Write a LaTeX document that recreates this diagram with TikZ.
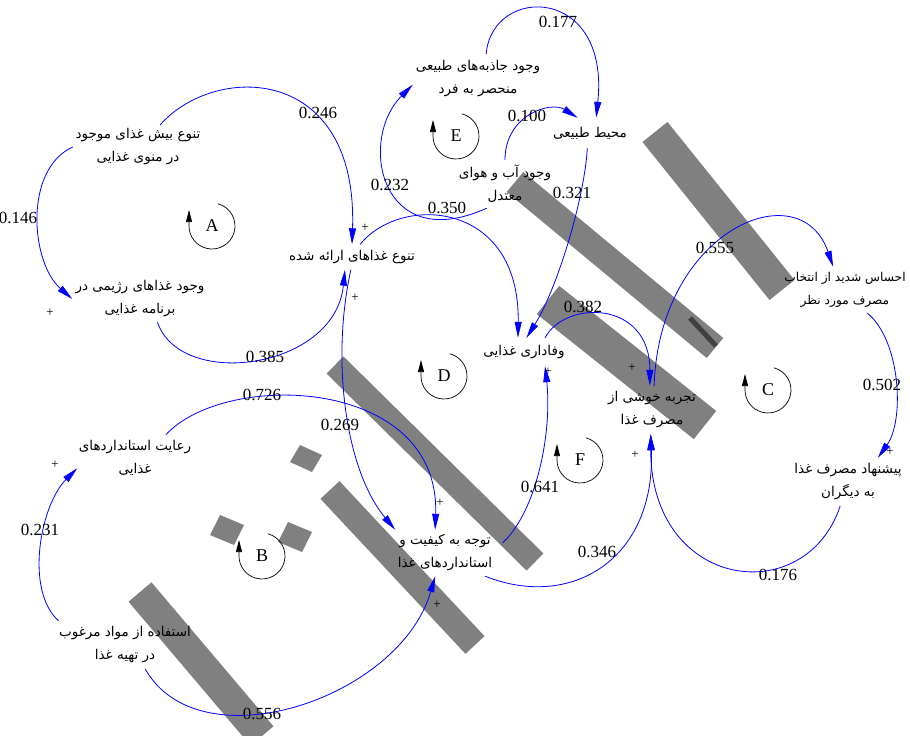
\documentclass[tikz,border=0pt]{standalone}
\usepackage{fontspec}
\setmainfont{Liberation Serif}
\newfontfamily\fa[Script=Arabic]{DejaVu Sans}
\TeXXeTstate=1
\usetikzlibrary{arrows.meta}
\begin{document}
\begin{tikzpicture}[x=1pt,y=1pt,
  lbl/.style={inner sep=0pt, align=center, font=\fa\fontsize{13.5}{23}\selectfont},
  num/.style={inner sep=0pt, font=\fontsize{17}{17}\selectfont},
  pol/.style={inner sep=0pt, font=\fontsize{13}{13}\selectfont},
  looplbl/.style={inner sep=0pt, font=\fontsize{18}{18}\selectfont},
  link/.style={blue, line width=0.8pt, -{Triangle[length=16pt,width=7pt]}},
  loopar/.style={black, line width=0.7pt, -{Triangle[length=12pt,width=6pt]}},
  wm/.style={black!50, line cap=butt}]
\useasboundingbox (0,0) rectangle (910,-736);
\clip (0,0) rectangle (910,-736);

% watermark (grey calligraphy, approximated)
\draw[wm, line width=32pt] (655,-132) -- (782,-290);
\draw[wm, line width=26pt] (515,-182) -- (715,-348);
\draw[black!75, line width=5pt] (690,-318) -- (716,-346);
\draw[wm, line width=36pt] (548,-300) -- (705,-425);
\draw[wm, line width=24pt] (335,-365) -- (535,-562);
\draw[wm, line width=26pt] (330,-490) -- (475,-645);
\draw[wm, line width=30pt] (140,-592) -- (262,-736);
\fill[black!50] (300,-445) -- (322,-455) -- (312,-472) -- (290,-462) -- cycle;
\fill[black!50] (220,-515) -- (244,-525) -- (234,-545) -- (210,-535) -- cycle;
\fill[black!50] (288,-522) -- (312,-532) -- (302,-552) -- (278,-542) -- cycle;

% variables
\node[lbl, minimum width=130pt, minimum height=44pt] (l1) at (138,-147) {\beginR تنوع بیش غذای موجود\endR\\\beginR در منوی غذایی\endR};
\node[lbl, minimum width=135pt, minimum height=46pt] (l2) at (140,-299) {\beginR وجود غذاهای رژیمی در\endR\\\beginR برنامه غذایی\endR};
\node[lbl, minimum width=116pt, minimum height=25pt] (l3) at (352,-257) {\beginR تنوع غذاهای ارائه شده\endR};
\node[lbl, minimum width=130pt, minimum height=50pt] (l4) at (478,-79) {\beginR وجود جاذبه‌های طبیعی\endR\\\beginR منحصر به فرد\endR};
\node[lbl, minimum width=76pt, minimum height=30pt] (l5) at (590,-133) {\beginR محیط طبیعی\endR};
\node[lbl, minimum width=95pt, minimum height=48pt] (l6) at (505,-184) {\beginR وجود آب و هوای\endR\\\beginR معتدل\endR};
\node[lbl, minimum width=65pt, minimum height=28pt] (l7) at (524,-352) {\beginR وفاداری غذایی\endR};
\node[lbl, minimum width=105pt, minimum height=48pt] (l8) at (652,-410) {\beginR تجربه خوشی از\endR\\\beginR مصرف غذا\endR};
\node[lbl, minimum width=135pt, minimum height=46pt, font=\fa\fontsize{12.2}{23}\selectfont] (l9) at (845,-290) {\beginR احساس شدید از انتخاب\endR\\\beginR مصرف مورد نظر\endR};
\node[lbl, minimum width=120pt, minimum height=48pt] (l10) at (848,-482) {\beginR پیشنهاد مصرف غذا\endR\\\beginR به دیگران\endR};
\node[lbl, minimum width=115pt, minimum height=46pt] (l11) at (135,-458) {\beginR رعایت استانداردهای\endR\\\beginR غذایی\endR};
\node[lbl, minimum width=115pt, minimum height=46pt] (l12) at (445,-553) {\beginR توجه به کیفیت و\endR\\\beginR استانداردهای غذا\endR};
\node[lbl, minimum width=145pt, minimum height=48pt] (l13) at (125,-645) {\beginR استفاده از مواد مرغوب\endR\\\beginR در تهیه غذا\endR};

% links
\draw[link] (l1.west) .. controls +(-49,-22) and +(-42,37) .. (l2.west);
\draw[link] (l1.45) .. controls +(55,62) and +(6,180) .. (l3.north);
\draw[link] (l2.-53) .. controls +(23,-68) and +(-10,-100) .. (l3.-119);
\draw[link] (l4.72) .. controls +(6,69) and +(14,133) .. (l5.68);
\draw[link] (l6.north) .. controls +(0,45) and +(-27,17) .. (l5.129);
\draw[link] (l6.-127) .. controls +(-107,-48) and +(-55,-55) .. (l4.-175);
\draw[link] (l3.57) .. controls +(40,50) and +(2,138) .. (l7.113);
\draw[link] (l5.-100) .. controls +(-3,-52) and +(30,48) .. (l7.80);
\draw[link] (l7.34) .. controls +(20,38) and +(0,86) .. (l8.95);
\draw[link] (l8.85) .. controls +(5,156) and +(-33,96) .. (l9.117);
\draw[link] (l9.-46) .. controls +(33,-27) and +(27,38) .. (l10.39);
\draw[link] (l10.-108) .. controls +(-35,-104) and +(0,-156) .. (l8.-93);
\draw[link] (l12.-30) .. controls +(85,-34) and +(5,-126) .. (l8.-93);
\draw[link] (l12.10) .. controls +(35,33) and +(7,-64) .. (l7.-34);
\draw[link] (l11.37) .. controls +(60,65) and +(5,153) .. (l12.113);
\draw[link] (l3.-95) .. controls +(-20,-90) and +(-50,60) .. (l12.155);
\draw[link] (l13.160) .. controls +(-34,31) and +(-37,-37) .. (l11.190);
\draw[link] (l13.-50) .. controls +(55,-96) and +(-35,-122) .. (l12.-113);

% coefficients
\node[num] (n1) at (18,-218) {0.146};
\node[num] (n2) at (318,-113) {0.246};
\node[num] (n3) at (265,-357) {0.385};
\node[num] (n4) at (558,-22) {0.177};
\node[num] (n5) at (527,-116) {0.100};
\node[num] (n6) at (390,-185) {0.232};
\node[num] (n7) at (447,-208) {0.350};
\node[num] (n8) at (572,-193) {0.321};
\node[num] (n9) at (583,-307) {0.382};
\node[num] (n10) at (715,-248) {0.555};
\node[num] (n11) at (882,-385) {0.502};
\node[num] (n12) at (778,-575) {0.176};
\node[num] (n13) at (597,-552) {0.346};
\node[num] (n14) at (540,-487) {0.641};
\node[num] (n15) at (262,-395) {0.726};
\node[num] (n16) at (340,-425) {0.269};
\node[num] (n17) at (40,-530) {0.231};
\node[num] (n18) at (262,-714) {0.556};

% polarities
\node[pol] (p1) at (365,-228) {+};
\node[pol] (p2) at (50,-313) {+};
\node[pol] (p3) at (355,-298) {+};
\node[pol] (p4) at (632,-368) {+};
\node[pol] (p5) at (548,-372) {+};
\node[pol] (p6) at (890,-452) {+};
\node[pol] (p7) at (635,-455) {+};
\node[pol] (p8) at (440,-503) {+};
\node[pol] (p9) at (55,-465) {+};
\node[pol] (p10) at (437,-605) {+};

% loop markers
\foreach \nm/\lx/\ly in {A/212/226, E/456/136, D/444/376, C/768/390, F/580/460, B/262/556}{
  \node[looplbl] (m\nm) at (\lx,-\ly) {\nm};
  \draw[loopar] ([shift={(75:23)}]m\nm.center) arc[start angle=75, end angle=-180, radius=23] -- ++(0,16);
}
\end{tikzpicture}
\end{document}
